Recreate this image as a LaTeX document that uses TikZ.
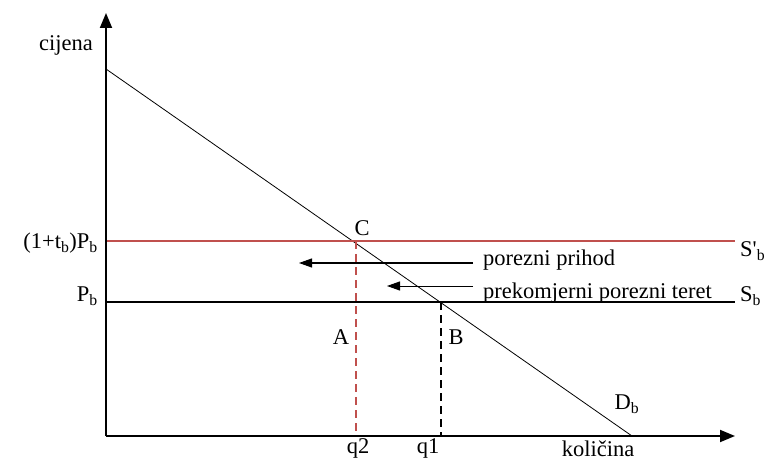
\documentclass[tikz,border=0pt]{standalone}
\usepackage{fontspec}
\setmainfont{Liberation Serif}
\newfontfamily\nolig{Liberation Serif}
\usetikzlibrary{arrows.meta,calc}
\definecolor{taxred}{RGB}{192,80,77}
\begin{document}
\begin{tikzpicture}[x=1pt,y=1pt,
  lbl/.style={font=\fontsize{22.5}{26}\selectfont, inner sep=1pt},
  axis/.style={line width=1.8pt,-{Triangle[length=15pt,width=12pt]}},
  demand/.style={line width=0.8pt},
  arr/.style={line width=1pt,-{Triangle[length=13pt,width=9pt]}},
  dashline/.style={line width=1.8pt,dash pattern=on 8pt off 5pt}]
\useasboundingbox (0,0) rectangle (768,461);
\coordinate (O) at (106,25);
\coordinate (ytop) at (106,448);
\coordinate (xend) at (735,25);
\coordinate (dstart) at (106,392);
\coordinate (dend) at (632,25);
\coordinate (rs) at (106,220);
\coordinate (re) at (735,220);
\coordinate (bs) at (106,159);
\coordinate (be) at (735,159);
\coordinate (Cpt) at (356,220);
\coordinate (Bpt) at (441,159);
\coordinate (q2b) at (Cpt |- O);
\coordinate (q1b) at (Bpt |- O);
% curves
\draw[demand] (dstart) -- (dend);
\draw[taxred, line width=1.4pt] (rs) -- (re);
\draw[line width=1.6pt] (bs) -- (be);
\draw[dashline, draw=taxred] (Cpt) -- (q2b);
\draw[dashline] (Bpt) -- (q1b);
% axes
\draw[axis] (O) -- (ytop);
\draw[axis] (O) -- (xend);
% arrows
\coordinate (a1s) at (473,198);
\coordinate (a1e) at (299,198);
\coordinate (a2s) at (473,175);
\coordinate (a2e) at (387,175);
\draw[arr] (a1s) -- (a1e);
\draw[arr] (a2s) -- (a2e);
% labels
\node[lbl, anchor=west] (pp) at (482,201) {porezni prihod};
\node[lbl, anchor=west] (ppt) at (482,168) {prekomjerni porezni teret};
\node[lbl, anchor=west] (Sp) at (739,210) {S{\nolig '}\textsubscript{b}};
\node[lbl, anchor=west] (Sb) at (739,165) {S\textsubscript{b}};
\node[lbl] (cij) at (66,416) {cijena};
\node[lbl, anchor=east] (tp) at (99,218) {(1+t\textsubscript{b})P\textsubscript{b}};
\node[lbl, anchor=east] (pb) at (99,165) {P\textsubscript{b}};
\node[lbl] (C) at (362,233) {C};
\node[lbl] (A) at (341,124) {A};
\node[lbl] (B) at (456,124) {B};
\node[lbl] (D) at (627,57) {D\textsubscript{b}};
\node[lbl] (q2) at (358,12.5) {q2};
\node[lbl] (q1) at (428,12.5) {q1};
\node[lbl] (kol) at (598,12.5) {količina};
\end{tikzpicture}
\end{document}
